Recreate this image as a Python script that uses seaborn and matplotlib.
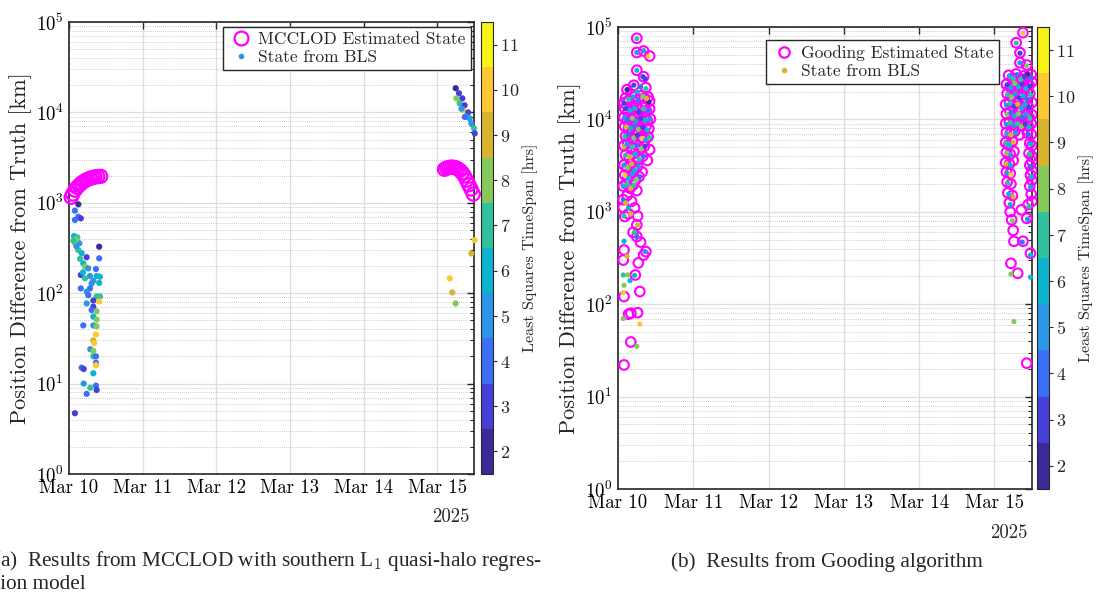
import numpy as np
import pandas as pd
import matplotlib
matplotlib.use("Agg")
import matplotlib.pyplot as plt
import matplotlib.dates as mdates
import seaborn as sns
from matplotlib.colors import ListedColormap, Normalize
from matplotlib.cm import ScalarMappable
from matplotlib.lines import Line2D
from matplotlib.ticker import LogLocator, NullFormatter, FixedLocator

# ---------------- data (day offset from 2025-03-10 00:00, km, hrs) ----------------
left_est_day = [0.03, 0.05, 0.08, 0.11, 0.14, 0.17, 0.20, 0.23, 0.26, 0.29, 0.32, 0.35, 0.39, 0.43,
                5.10, 5.13, 5.16, 5.19, 5.22, 5.25, 5.28, 5.31, 5.34, 5.37, 5.40, 5.43, 5.46, 5.49]
left_est_km = [1150, 1250, 1380, 1480, 1570, 1650, 1720, 1780, 1830, 1870, 1900, 1930, 1950, 1960,
               2350, 2420, 2460, 2480, 2470, 2440, 2380, 2280, 2150, 1980, 1780, 1580, 1420, 1250]

left_bls_day = [0.127, 0.08, 0.127, 0.16, 0.08, 0.068, 0.113, 0.08, 0.14, 0.127, 0.41, 0.172, 0.24, 0.41,
                0.194, 0.217, 0.366, 0.262, 0.16, 0.285, 0.375, 0.42, 0.217, 0.33, 0.307, 0.16, 0.41,
                0.285, 0.24, 0.262, 0.375, 0.42, 0.33, 0.41, 0.24, 0.33, 0.307, 0.375, 0.33, 0.375,
                0.194, 0.33, 0.375, 0.366, 0.33, 0.34, 0.289, 0.33, 0.33, 0.366, 0.366, 0.366, 0.172,
                0.2, 0.33, 0.2, 0.366, 0.289, 0.375, 0.24, 0.08, 0.09, 0.10, 0.06, 0.15, 0.19,
                5.251, 5.296, 5.26, 5.342, 5.305, 5.373, 5.35, 5.42, 5.395, 5.44, 5.464, 5.5, 5.51,
                5.33, 5.375, 5.51, 5.464, 5.17, 5.205, 5.25]
left_bls_km = [962, 818, 702, 672, 646, 429, 415, 357, 357, 300, 327, 277, 250, 243,
               214, 197, 185, 188, 159, 155, 155, 152, 146, 137, 128, 113, 130,
               113, 104, 95, 92, 92, 83, 81, 77, 71, 65, 63, 55, 51,
               44, 44, 43, 35, 30, 28, 24, 23, 20, 20, 17, 16, 15,
               14.5, 13, 10, 9.5, 9, 8.5, 7.7, 4.7, 390, 330, 380, 240, 170,
               18500, 16300, 14300, 14300, 12600, 12000, 10600, 10000, 8970, 8600, 7560, 6660, 5860,
               11000, 8900, 387, 275, 146, 102, 77]
left_bls_hrs = [2.4, 3.6, 3.6, 3.2, 3.6, 6.4, 6.6, 9.4, 5.2, 7.4, 2.4, 6.2, 2.6, 3.6,
                6.4, 7.6, 4.2, 4.6, 2.6, 5.2, 5.6, 6.2, 6.6, 4.6, 5.2, 4.2, 5.6,
                3.6, 5.2, 4.2, 7.2, 6.6, 3.2, 9.6, 4.6, 2.6, 3.6, 8.2, 5.6, 7.6,
                4.2, 4.6, 8.2, 9.6, 9.4, 9.6, 5.2, 7.6, 6.6, 4.2, 3.6, 9.6, 4.2,
                2.6, 6.2, 5.2, 4.2, 6.6, 3.2, 4.2, 2.6, 7.8, 5.4, 6.8, 6.6, 5.6,
                2.4, 2.6, 8.2, 3.2, 7.2, 3.2, 9.6, 3.2, 6.2, 4.6, 5.2, 7.2, 2.8,
                5.4, 4.4, 9.6, 9.2, 9.6, 9.2, 8.2]

right_est_day = [0.25, 0.25, 0.34, 0.42, 0.25, 0.34, 0.12, 0.21, 0.37, 0.08, 0.42,
                 0.10, 0.14, 0.18, 0.22, 0.27, 0.31, 0.35, 0.40,
                 0.09, 0.13, 0.17, 0.20, 0.24, 0.29, 0.33, 0.38, 0.42,
                 0.08, 0.12, 0.16, 0.21, 0.26, 0.30, 0.35, 0.39, 0.43,
                 0.09, 0.14, 0.19, 0.23, 0.28, 0.32, 0.37, 0.41,
                 0.10, 0.15, 0.20, 0.25, 0.31, 0.36, 0.40,
                 0.08, 0.13, 0.18, 0.24, 0.30, 0.35, 0.42,
                 0.10, 0.15, 0.22, 0.27, 0.33, 0.39,
                 0.08, 0.12, 0.17, 0.21, 0.26, 0.32,
                 0.09, 0.13, 0.18, 0.23, 0.28,
                 0.07, 0.11, 0.16, 0.20, 0.25,
                 0.12, 0.18, 0.22, 0.14, 0.26, 0.20, 0.30, 0.27,
                 0.07, 0.07, 0.09, 0.25, 0.25, 0.08, 0.37, 0.07, 0.34, 0.23, 0.29, 0.08,
                 0.17, 0.26, 0.14, 0.17, 0.08,
                 5.38, 5.29, 5.34, 5.34, 5.43,
                 5.19, 5.24, 5.29, 5.34, 5.39, 5.44, 5.49,
                 5.16, 5.21, 5.26, 5.31, 5.36, 5.41, 5.46, 5.50,
                 5.17, 5.22, 5.27, 5.32, 5.37, 5.42, 5.47,
                 5.15, 5.20, 5.25, 5.30, 5.35, 5.40, 5.45, 5.50,
                 5.16, 5.21, 5.26, 5.31, 5.36, 5.41, 5.46, 5.50,
                 5.15, 5.20, 5.25, 5.30, 5.35, 5.40, 5.45, 5.49,
                 5.16, 5.21, 5.27, 5.33, 5.44, 5.49,
                 5.15, 5.19, 5.24, 5.47, 5.50,
                 5.16, 5.21, 5.26, 5.46, 5.50,
                 5.15, 5.20, 5.25, 5.47, 5.50,
                 5.16, 5.21, 5.48, 5.50,
                 5.17, 5.22, 5.47, 5.50,
                 5.18, 5.24, 5.49,
                 5.20, 5.45, 5.50, 5.21, 5.36,
                 5.23, 5.25, 5.43, 5.26, 5.38, 5.48, 5.22, 5.31, 5.43]
right_est_km = [75500, 53000, 55000, 48500, 34000, 29000, 21000, 23400, 22100, 15100, 15800,
                17000, 16000, 18500, 17500, 16500, 18000, 17000, 17500,
                13000, 12000, 13500, 12500, 14000, 12800, 13600, 12200, 13000,
                10500, 9800, 10200, 9500, 10800, 9900, 10300, 9700, 10100,
                8400, 8000, 8600, 7800, 8200, 7600, 8400, 7900,
                6600, 6900, 6200, 6700, 6400, 6000, 6500,
                5200, 5500, 5000, 5300, 4800, 5100, 4700,
                4100, 3900, 4300, 3700, 4000, 3600,
                3200, 3000, 3300, 2800, 3100, 2700,
                2500, 2300, 2600, 2200, 2400,
                1900, 2000, 1800, 1950, 1700,
                1500, 1300, 1100, 950, 900, 600, 470, 280,
                1350, 1120, 890, 720, 540, 386, 371, 300, 340, 207, 137, 121,
                80, 81, 78, 39, 22,
                86900, 67600, 52700, 41100, 38800,
                30000, 28000, 31000, 27500, 29500, 28500, 30500,
                24000, 22500, 25000, 23000, 24500, 22000, 23500, 25500,
                19000, 18000, 19500, 17500, 18500, 17000, 19000,
                14500, 15500, 14000, 15000, 13500, 14800, 13800, 15200,
                11500, 12000, 11000, 11800, 10800, 11600, 10500, 11200,
                9000, 9400, 8800, 9200, 8600, 9100, 8500, 9000,
                7200, 7000, 7400, 6800, 7100, 6900,
                5600, 5300, 5800, 5500, 5200,
                4400, 4200, 4500, 4300, 4000,
                3400, 3300, 3600, 3200, 3500,
                2700, 2600, 2500, 2800,
                2100, 2000, 1900, 2200,
                1600, 1500, 1550,
                1250, 1200, 1300, 1000, 1050,
                820, 630, 850, 480, 480, 356, 277, 216, 23]

right_bls_day = [0.25, 0.25, 0.34, 0.40, 0.25, 0.33, 0.36, 0.12, 0.21, 0.30, 0.37, 0.25, 0.08, 0.41,
                 0.14, 0.20, 0.27, 0.33, 0.38,
                 0.10, 0.16, 0.22, 0.28, 0.34, 0.40,
                 0.09, 0.13, 0.19, 0.24, 0.30, 0.36, 0.42,
                 0.11, 0.17, 0.22, 0.27, 0.33, 0.39,
                 0.09, 0.14, 0.21, 0.26, 0.32, 0.37, 0.42,
                 0.08, 0.12, 0.19, 0.25, 0.31, 0.36,
                 0.10, 0.16, 0.23, 0.28, 0.34,
                 0.08, 0.13, 0.18, 0.22, 0.27,
                 0.09, 0.14, 0.19, 0.24, 0.29,
                 0.07, 0.12, 0.17, 0.21,
                 0.07, 0.10, 0.14, 0.08, 0.17, 0.26, 0.22, 0.25, 0.08, 0.36, 0.12,
                 0.07, 0.13, 0.22, 0.16, 0.08, 0.07, 0.29, 0.25, 0.07,
                 5.38, 5.29, 5.34, 5.34, 5.43,
                 5.44, 5.20, 5.25, 5.30, 5.35, 5.40, 5.48,
                 5.17, 5.22, 5.27, 5.32, 5.37, 5.42, 5.47,
                 5.18, 5.23, 5.28, 5.33, 5.38, 5.43, 5.48,
                 5.16, 5.21, 5.26, 5.31, 5.36, 5.41, 5.46,
                 5.17, 5.22, 5.27, 5.32, 5.37, 5.42, 5.47,
                 5.16, 5.21, 5.26, 5.31, 5.36, 5.41, 5.46,
                 5.17, 5.22, 5.28, 5.45,
                 5.16, 5.20, 5.25, 5.48,
                 5.17, 5.22, 5.47,
                 5.16, 5.21, 5.48,
                 5.17, 5.22, 5.49,
                 5.18, 5.48, 5.19, 5.25, 5.21, 5.46,
                 5.24, 5.44, 5.37, 5.48, 5.22, 5.48, 5.26]
right_bls_km = [75000, 53000, 55500, 48000, 34000, 29000, 27500, 21000, 23500, 22500, 21500, 20000, 15000, 15500,
                16500, 17500, 16000, 17800, 16800,
                13000, 12500, 13200, 12000, 13000, 12400,
                10400, 9800, 10300, 9600, 10200, 9800, 10000,
                8300, 8000, 8500, 7800, 8200, 7700,
                6500, 6800, 6300, 6700, 6200, 6000, 6400,
                5100, 5400, 5000, 5300, 4800, 5100,
                4100, 3900, 4200, 3700, 4000,
                3200, 3000, 3300, 2800, 3100,
                2500, 2300, 2600, 2200, 2400,
                1900, 2000, 1800, 1950,
                1350, 1250, 1100, 900, 950, 720, 600, 540, 480, 370, 330,
                207, 208, 205, 180, 160, 133, 61, 35, 70,
                86000, 67000, 52000, 41000, 38000,
                30500, 29500, 27500, 30500, 27000, 29000, 28000,
                23500, 22000, 24500, 22500, 24000, 21500, 23000,
                18500, 17500, 19000, 17000, 18000, 16500, 18500,
                14200, 15000, 13800, 14600, 13200, 14400, 13500,
                11300, 11800, 10800, 11500, 10600, 11300, 10300,
                8800, 9200, 8600, 9000, 8400, 8900, 8300,
                7000, 6800, 7200, 6900,
                5500, 5200, 5700, 5400,
                4300, 4100, 4200,
                3300, 3200, 3100,
                2600, 2500, 2400,
                2050, 1850, 1550, 1450, 1200, 1150,
                800, 830, 470, 340, 212, 196, 65]
right_bls_hrs = [6.8, 5.2, 4.6, 9.6, 5.6, 2.6, 3.4, 2.4, 2.8, 3.6, 7.4, 6.2, 2.6, 2.4,
                 6.6, 5.4, 4.2, 8.2, 9.4,
                 3.2, 6.4, 5.8, 3.4, 7.2, 4.4,
                 4.8, 3.6, 7.6, 5.2, 2.6, 6.2, 4.6,
                 9.4, 5.6, 3.8, 7.8, 2.8, 5.8,
                 6.6, 4.2, 8.4, 3.2, 9.6, 5.4, 7.4,
                 9.2, 5.2, 6.8, 4.4, 8.2, 2.6,
                 7.2, 9.4, 5.8, 6.6, 4.2,
                 5.4, 7.6, 9.2, 6.2, 4.8,
                 9.6, 6.4, 5.2, 8.2, 4.4,
                 5.6, 6.8, 9.4, 7.2,
                 4.2, 9.4, 6.2, 7.4, 8.8, 9.4, 6.6, 4.2, 6.4, 5.2, 9.4,
                 6.6, 8.2, 6.2, 6.4, 8.2, 9.6, 9.6, 8.4, 8.2,
                 9.6, 6.6, 2.6, 5.4, 8.2,
                 2.4, 5.6, 6.6, 4.2, 7.4, 2.8, 3.6,
                 2.6, 4.6, 7.8, 6.2, 3.4, 5.6, 2.6,
                 6.8, 8.4, 5.2, 2.8, 6.4, 4.4, 7.2,
                 4.8, 6.6, 3.2, 9.4, 5.6, 6.4, 2.6,
                 7.6, 4.2, 6.2, 8.2, 3.6, 5.2, 6.8,
                 5.4, 7.2, 4.6, 6.6, 8.4, 3.2, 5.8,
                 6.4, 9.4, 5.2, 4.4,
                 7.4, 5.6, 9.4, 6.2,
                 8.2, 4.8, 6.6,
                 9.4, 6.2, 4.2,
                 5.2, 9.6, 6.4,
                 7.4, 4.6, 6.2, 9.4, 5.6, 6.6,
                 8.2, 5.4, 3.6, 6.4, 8.2, 6.2, 7.8]

hrs_colors = ["#3b2a98", "#4640d8", "#3a6ff6", "#2a96e6", "#0db3cf",
              "#32c19d", "#84c95a", "#d7b42b", "#fcc834", "#f8f418"]
cbar_ticks = [2, 3, 4, 5, 6, 7, 8, 9, 10, 11]
xtick_days = [0, 1, 2, 3, 4, 5]

# ---------------- styling ----------------
sns.set_style("white")
plt.rcParams["font.family"] = ["cmr10"]
plt.rcParams["mathtext.fontset"] = "cm"
plt.rcParams["axes.formatter.use_mathtext"] = True

base = pd.Timestamp("2025-03-10")
def to_time(days):
    return base + pd.to_timedelta(np.asarray(days, dtype=float), unit="D")

cmap = ListedColormap(hrs_colors)
norm = Normalize(vmin=1.5, vmax=11.5)

fig = plt.figure(figsize=(10.98, 5.97), dpi=100)

panels = [
    dict(ax=[69/1098, 1-474/597, 405/1098, 452/597],
         cax=[481/1098, 1-474/597, 12/1098, 452/597],
         est_day=left_est_day, est_km=left_est_km, est_s=90, est_lw=1.6,
         bls_day=left_bls_day, bls_km=left_bls_km, bls_hrs=left_bls_hrs, bls_s=20,
         est_label="MCCLOD Estimated State", leg_color=hrs_colors[3], leg_ms_est=10,
         leg_anchor=(0.992, 0.99)),
    dict(ax=[618/1098, 1-489/597, 414/1098, 462/597],
         cax=[1037/1098, 1-489/597, 12/1098, 462/597],
         est_day=right_est_day, est_km=right_est_km, est_s=48, est_lw=1.5,
         bls_day=right_bls_day, bls_km=right_bls_km, bls_hrs=right_bls_hrs, bls_s=14,
         est_label="Gooding Estimated State", leg_color=hrs_colors[7], leg_ms_est=7.5,
         leg_anchor=(0.92, 0.972)),
]

for p in panels:
    ax = fig.add_axes(p["ax"])
    cax = fig.add_axes(p["cax"])

    df_est = pd.DataFrame({"t": to_time(p["est_day"]), "km": p["est_km"]})
    df_bls = pd.DataFrame({"t": to_time(p["bls_day"]), "km": p["bls_km"], "hrs": p["bls_hrs"]})

    sns.scatterplot(data=df_est, x="t", y="km", ax=ax, marker="o", s=p["est_s"],
                    facecolor="none", edgecolor="#ff00ff", linewidth=p["est_lw"],
                    legend=False, zorder=3, clip_on=False)
    sns.scatterplot(data=df_bls, x="t", y="km", hue="hrs", palette=cmap, hue_norm=norm,
                    ax=ax, s=p["bls_s"], linewidth=0, legend=False, zorder=4, clip_on=False)

    ax.set_yscale("log")
    ax.set_ylim(1, 1e5)
    ax.set_xlim(base, base + pd.Timedelta(days=5.5))
    ax.xaxis.set_major_locator(FixedLocator([mdates.date2num(base + pd.Timedelta(days=d)) for d in xtick_days]))
    ax.xaxis.set_major_formatter(mdates.DateFormatter("%b %d"))
    ax.yaxis.set_major_locator(LogLocator(base=10, numticks=10))
    ax.yaxis.set_minor_locator(LogLocator(base=10, subs=np.arange(2, 10), numticks=20))
    ax.yaxis.set_minor_formatter(NullFormatter())

    ax.set_axisbelow(True)
    ax.grid(True, which="major", color="#dedede", lw=0.9, ls="-")
    ax.grid(True, which="minor", axis="y", color="#bdbdbd", lw=0.6, ls=(0, (1, 1.5)))
    ax.tick_params(which="both", direction="in", top=True, right=True, colors="#262626",
                   labelsize=13.5, labelcolor="black", pad=4)
    ax.tick_params(which="major", length=5, width=1.0)
    ax.tick_params(which="minor", length=3, width=0.8)
    for s in ax.spines.values():
        s.set_color("#262626")
        s.set_linewidth(1.2)
    ax.set_xlabel("")
    ax.set_ylabel("Position Difference from Truth [km]", fontsize=16, labelpad=3)
    ax.text(0.99, -0.095, "2025", transform=ax.transAxes, ha="right", va="center", fontsize=13.5)

    handles = [Line2D([], [], ls="none", marker="o", mfc="none", mec="#ff00ff", mew=1.6,
                      ms=p["leg_ms_est"], label=p["est_label"]),
               Line2D([], [], ls="none", marker="o", mfc=p["leg_color"], mec="none",
                      ms=4, label="State from BLS")]
    leg = ax.legend(handles=handles, loc="upper right", bbox_to_anchor=p["leg_anchor"],
                    fontsize=12.5, frameon=True, fancybox=False, edgecolor="#262626",
                    framealpha=1, borderpad=0.3, handletextpad=0.3, labelspacing=0.15,
                    handlelength=1.4, borderaxespad=0)
    leg.get_frame().set_linewidth(1.0)

    cb = fig.colorbar(ScalarMappable(norm=norm, cmap=cmap), cax=cax, ticks=cbar_ticks)
    cb.outline.set_linewidth(0.8)
    cb.outline.set_edgecolor("#262626")
    cax.tick_params(labelsize=13, length=3, width=0.8, direction="out", pad=2)
    cb.set_label("Least Squares TimeSpan [hrs]", fontsize=11.5, labelpad=2)

# captions
cap_font = ["Liberation Serif", "DejaVu Serif"]
fig.text(-7/1098, 1-566/597,
         "(a)  Results from MCCLOD with southern L$_1$ quasi-halo regres-",
         family=cap_font, fontsize=15.3, ha="left", va="baseline")
fig.text(-8/1098, 1-589/597, "sion model", family=cap_font, fontsize=15.3, ha="left", va="baseline")
fig.text(827/1098, 1-567/597, "(b)  Results from Gooding algorithm",
         family=cap_font, fontsize=15.3, ha="center", va="baseline")

fig.savefig("out.png", dpi=100)
